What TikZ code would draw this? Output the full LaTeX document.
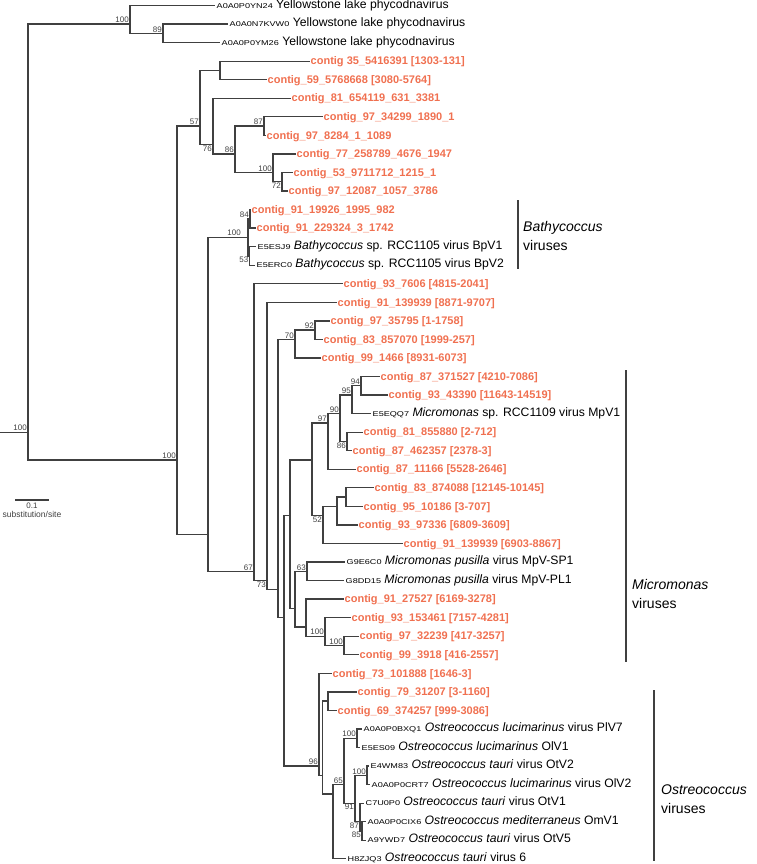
\documentclass[tikz,border=0pt]{standalone}
\usepackage{fontspec}
\setmainfont{Liberation Sans}
\usetikzlibrary{positioning, calc}
\definecolor{ctgcolor}{RGB}{240,112,80}
\definecolor{brcolor}{HTML}{404040}
\newcommand{\accn}[1]{{\fontsize{7}{8}\selectfont\scalebox{1.3}[1]{#1}}}

\begin{document}
\begin{tikzpicture}[x=1pt, y=-18.55pt,
    br/.style={draw=brcolor, line width=1.3pt},
    ctg/.style={anchor=west, inner sep=0.5pt, text=ctgcolor, font=\fontsize{11}{12}\selectfont\bfseries, text height=8.4pt, text depth=1pt},
    ref/.style={anchor=west, inner ysep=0pt, inner xsep=1.5pt, font=\fontsize{12.2}{13}\selectfont, text height=6pt, text depth=1pt},
    bs/.style={font=\fontsize{8}{9}\selectfont, inner sep=1pt, text=brcolor},
    clade/.style={anchor=west, font=\fontsize{14}{19}\selectfont, align=left, inner sep=0pt},
  ]
    \useasboundingbox (0,-0.2965) rectangle (756,46.28);

    % leaves
    \node[ref] (l01) at (215,0) {\accn{A0A0P0YN24} Yellowstone lake phycodnavirus};
    \node[ref] (l02) at (228,1) {\accn{A0A0N7KVW0} Yellowstone lake phycodnavirus};
    \node[ref] (l03) at (220,2) {\accn{A0A0P0YM26} Yellowstone lake phycodnavirus};
    \node[ctg] (l04) at (310,3) {contig 35\_5416391 [1303-131]};
    \node[ctg] (l05) at (267,4) {contig\_59\_5768668 [3080-5764]};
    \node[ctg] (l06) at (291,5) {contig\_81\_654119\_631\_3381};
    \node[ctg] (l07) at (323,6) {contig\_97\_34299\_1890\_1};
    \node[ctg] (l08) at (266,7) {contig\_97\_8284\_1\_1089};
    \node[ctg] (l09) at (296,8) {contig\_77\_258789\_4676\_1947};
    \node[ctg] (l10) at (293,9) {contig\_53\_9711712\_1215\_1};
    \node[ctg] (l11) at (288,10) {contig\_97\_12087\_1057\_3786};
    \node[ctg] (l12) at (251,11) {contig\_91\_19926\_1995\_982};
    \node[ctg] (l13) at (256,12) {contig\_91\_229324\_3\_1742};
    \node[ref] (l14) at (256,13) {\accn{E5ESJ9} \textit{Bathycoccus} sp. RCC1105 virus BpV1};
    \node[ref] (l15) at (255,14) {\accn{E5ERC0} \textit{Bathycoccus} sp. RCC1105 virus BpV2};
    \node[ctg] (l16) at (343,15) {contig\_93\_7606 [4815-2041]};
    \node[ctg] (l17) at (337,16) {contig\_91\_139939 [8871-9707]};
    \node[ctg] (l18) at (330,17) {contig\_97\_35795 [1-1758]};
    \node[ctg] (l19) at (323,18) {contig\_83\_857070 [1999-257]};
    \node[ctg] (l20) at (321,19) {contig\_99\_1466 [8931-6073]};
    \node[ctg] (l21) at (380,20) {contig\_87\_371527 [4210-7086]};
    \node[ctg] (l22) at (388,21) {contig\_93\_43390 [11643-14519]};
    \node[ref] (l23) at (371,22) {\accn{E5EQQ7} \textit{Micromonas} sp. RCC1109 virus MpV1};
    \node[ctg] (l24) at (363,23) {contig\_81\_855880 [2-712]};
    \node[ctg] (l25) at (352,24) {contig\_87\_462357 [2378-3]};
    \node[ctg] (l26) at (356,25) {contig\_87\_11166 [5528-2646]};
    \node[ctg] (l27) at (374,26) {contig\_83\_874088 [12145-10145]};
    \node[ctg] (l28) at (363,27) {contig\_95\_10186 [3-707]};
    \node[ctg] (l29) at (358,28) {contig\_93\_97336 [6809-3609]};
    \node[ctg] (l30) at (403,29) {contig\_91\_139939 [6903-8867]};
    \node[ref] (l31) at (345,30) {\accn{G9E6C0} \textit{Micromonas pusilla} virus MpV-SP1};
    \node[ref] (l32) at (344,31) {\accn{G8DD15} \textit{Micromonas pusilla} virus MpV-PL1};
    \node[ctg] (l33) at (344,32) {contig\_91\_27527 [6169-3278]};
    \node[ctg] (l34) at (351,33) {contig\_93\_153461 [7157-4281]};
    \node[ctg] (l35) at (359,34) {contig\_97\_32239 [417-3257]};
    \node[ctg] (l36) at (359,35) {contig\_99\_3918 [416-2557]};
    \node[ctg] (l37) at (332,36) {contig\_73\_101888 [1646-3]};
    \node[ctg] (l38) at (357,37) {contig\_79\_31207 [3-1160]};
    \node[ctg] (l39) at (337,38) {contig\_69\_374257 [999-3086]};
    \node[ref] (l40) at (362,39) {\accn{A0A0P0BXQ1} \textit{Ostreococcus lucimarinus} virus PlV7};
    \node[ref] (l41) at (360,40) {\accn{E5ES09} \textit{Ostreococcus lucimarinus} OlV1};
    \node[ref] (l42) at (369,41) {\accn{E4WM83} \textit{Ostreococcus tauri} virus OtV2};
    \node[ref] (l43) at (370,42) {\accn{A0A0P0CRT7} \textit{Ostreococcus lucimarinus} virus OlV2};
    \node[ref] (l44) at (364,43) {\accn{C7U0P0} \textit{Ostreococcus tauri} virus OtV1};
    \node[ref] (l45) at (366,44) {\accn{A0A0P0CIX6} \textit{Ostreococcus mediterraneus} OmV1};
    \node[ref] (l46) at (366,45) {\accn{A9YWD7} \textit{Ostreococcus tauri} virus OtV5};
    \node[ref] (l47) at (346,46) {\accn{H8ZJQ3} \textit{Ostreococcus tauri} virus 6};

    % inner nodes
    \coordinate (base) at (0,23);
    \coordinate (root) at (28,23);
    \coordinate (nY) at (130,1);
    \coordinate (n89) at (163,1.5);
    \coordinate (nB) at (177,24.5);
    \coordinate (n57) at (200,6.5);
    \coordinate (nA) at (220,3.5);
    \coordinate (n76) at (213,7.5);
    \coordinate (n86) at (235,8);
    \coordinate (n87) at (264,6.5);
    \coordinate (n100a) at (273,9);
    \coordinate (n72) at (282,9.5);
    \coordinate (nC) at (208,28.5);
    \coordinate (nBa) at (248,12.5);
    \coordinate (n84) at (250,11.5);
    \coordinate (n53) at (249.5,13.5);
    \coordinate (n67) at (254,30.5);
    \coordinate (nD) at (267,31);
    \coordinate (nE) at (278,31.5);
    \coordinate (n70) at (295,18);
    \coordinate (n92) at (315,17.5);
    \coordinate (nF) at (284,33);
    \coordinate (nG) at (290,27.5);
    \coordinate (nH) at (312,24.5);
    \coordinate (n97) at (328,22.5);
    \coordinate (n90) at (340,22);
    \coordinate (n95) at (352,21);
    \coordinate (n94) at (361,20.5);
    \coordinate (n86b) at (347,23.5);
    \coordinate (n52) at (323,27.5);
    \coordinate (nI) at (337,27);
    \coordinate (nJ) at (346,26.5);
    \coordinate (nK) at (295,32.5);
    \coordinate (n63) at (307,30.5);
    \coordinate (nL) at (306,33.5);
    \coordinate (n100b) at (325,34);
    \coordinate (n100c) at (344,34.5);
    \coordinate (n96) at (319,41);
    \coordinate (nM) at (322.7,41.5);
    \coordinate (nN) at (328,37.5);
    \coordinate (nO) at (333,42.5);
    \coordinate (n65) at (344,42);
    \coordinate (n100d) at (357,39.5);
    \coordinate (n91) at (355,43);
    \coordinate (n100e) at (367,41.5);
    \coordinate (n87b) at (360,44);
    \coordinate (n85) at (362,44.5);

    % branches
    \draw[br] (base) -- (root);
    \draw[br] (root) |- (nY) (root) |- (nB);
    \draw[br] (nY) |- (l01.west) (nY) |- (n89);
    \draw[br] (n89) |- (l02.west) (n89) |- (l03.west);
    \draw[br] (nB) |- (n57) (nB) |- (nC);
    \draw[br] (n57) |- (nA) (n57) |- (n76);
    \draw[br] (nA) |- (l04.west) (nA) |- (l05.west);
    \draw[br] (n76) |- (l06.west) (n76) |- (n86);
    \draw[br] (n86) |- (n87) (n86) |- (n100a);
    \draw[br] (n87) |- (l07.west) (n87) |- (l08.west);
    \draw[br] (n100a) |- (l09.west) (n100a) |- (n72);
    \draw[br] (n72) |- (l10.west) (n72) |- (l11.west);
    \draw[br] (nC) |- (nBa) (nC) |- (n67);
    \draw[br] (nBa) |- (n84) (nBa) |- (n53);
    \draw[br] (n84) |- (l12.west) (n84) |- (l13.west);
    \draw[br] (n53) |- (l14.west) (n53) |- (l15.west);
    \draw[br] (n67) |- (l16.west) (n67) |- (nD);
    \draw[br] (nD) |- (l17.west) (nD) |- (nE);
    \draw[br] (nE) |- (n70) (nE) |- (nF);
    \draw[br] (n70) |- (n92) (n70) |- (l20.west);
    \draw[br] (n92) |- (l18.west) (n92) |- (l19.west);
    \draw[br] (nF) |- (nG) (nF) |- (n96);
    \draw[br] (nG) |- (nH) (nG) |- (nK);
    \draw[br] (nH) |- (n97) (nH) |- (n52);
    \draw[br] (n97) |- (n90) (n97) |- (l26.west);
    \draw[br] (n90) |- (n95) (n90) |- (n86b);
    \draw[br] (n95) |- (n94) (n95) |- (l23.west);
    \draw[br] (n94) |- (l21.west) (n94) |- (l22.west);
    \draw[br] (n86b) |- (l24.west) (n86b) |- (l25.west);
    \draw[br] (n52) |- (nI) (n52) |- (l30.west);
    \draw[br] (nI) |- (nJ) (nI) |- (l29.west);
    \draw[br] (nJ) |- (l27.west) (nJ) |- (l28.west);
    \draw[br] (nK) |- (n63) (nK) |- (nL);
    \draw[br] (n63) |- (l31.west) (n63) |- (l32.west);
    \draw[br] (nL) |- (l33.west) (nL) |- (n100b);
    \draw[br] (n100b) |- (l34.west) (n100b) |- (n100c);
    \draw[br] (n100c) |- (l35.west) (n100c) |- (l36.west);
    \draw[br] (n96) |- (l37.west) (n96) |- (nM);
    \draw[br] (nM) |- (nN) (nM) |- (nO);
    \draw[br] (nN) |- (l38.west) (nN) |- (l39.west);
    \draw[br] (nO) |- (n65) (nO) |- (l47.west);
    \draw[br] (n65) |- (n100d) (n65) |- (n91);
    \draw[br] (n100d) |- (l40.west) (n100d) |- (l41.west);
    \draw[br] (n91) |- (n100e) (n91) |- (n87b);
    \draw[br] (n100e) |- (l42.west) (n100e) |- (l43.west);
    \draw[br] (n87b) |- (l44.west) (n87b) |- (n85);
    \draw[br] (n85) |- (l45.west) (n85) |- (l46.west);

    % bootstrap values
    \node[bs, above left] (broot) at (root) {100};
    \node[bs, above left] (bY) at (nY) {100};
    \node[bs, above left] (b89) at (n89) {89};
    \node[bs, above left] (bB) at (nB) {100};
    \node[bs, above left] (b57) at (n57) {57};
    \node[bs, below left] (b76) at (n76) {76};
    \node[bs, above left] (b86) at (n86) {86};
    \node[bs, above left] (b87) at (n87) {87};
    \node[bs, above left] (b100a) at (n100a) {100};
    \node[bs, below left] (b72) at (n72) {72};
    \node[bs, above left] (b84) at (n84) {84};
    \node[bs, above left=1pt and 6pt] (bBa) at (nBa) {100};
    \node[bs, below left] (b53) at (n53) {53};
    \node[bs, above left] (b67) at (n67) {67};
    \node[bs, below left] (b73) at (nD) {73};
    \node[bs, above left] (b70) at (n70) {70};
    \node[bs, above left] (b92) at (n92) {92};
    \node[bs, above left] (b97) at (n97) {97};
    \node[bs, above left] (b90) at (n90) {90};
    \node[bs, above left] (b95) at (n95) {95};
    \node[bs, above left] (b94) at (n94) {94};
    \node[bs, below left] (b86b) at (n86b) {86};
    \node[bs, below left] (b52) at (n52) {52};
    \node[bs, above left] (b63) at (n63) {63};
    \node[bs, above left] (b100b) at (n100b) {100};
    \node[bs, above left] (b100c) at (n100c) {100};
    \node[bs, above left] (b96) at (n96) {96};
    \node[bs, above left] (b65) at (n65) {65};
    \node[bs, above left] (b100d) at (n100d) {100};
    \node[bs, above left] (b100e) at (n100e) {100};
    \node[bs, below left] (b91) at (n91) {91};
    \node[bs, below left] (b87b) at (n87b) {87};
    \node[bs, below left] (b85) at (n85) {85};

    % clade bars
    \coordinate (bathyT) at (518,10.49);
    \coordinate (bathyB) at (518,14.2);
    \draw[br] (bathyT) -- (bathyB);
    \node[clade] (tbathy) at (523,12.4) {\textit{Bathycoccus}\\viruses};
    \coordinate (microT) at (626,19.65);
    \coordinate (microB) at (626,35.4);
    \draw[br] (microT) -- (microB);
    \node[clade] (tmicro) at (632,31.7) {\textit{Micromonas}\\viruses};
    \coordinate (ostreT) at (654,36.9);
    \coordinate (ostreB) at (654,46.1);
    \draw[br] (ostreT) -- (ostreB);
    \node[clade] (tostre) at (661,42.8) {\textit{Ostreococcus}\\viruses};

    % scale bar
    \coordinate (sbL) at (15,26.66);
    \coordinate (sbR) at (49,26.66);
    \draw[br] (sbL) -- (sbR);
    \node[bs, below=2pt] (sbv) at ($(sbL)!0.5!(sbR)$) {0.1};
    \node[bs, below=0.5pt, font=\fontsize{8.5}{9}\selectfont] (sbu) at (sbv.south) {substitution/site};
\end{tikzpicture}
\end{document}
